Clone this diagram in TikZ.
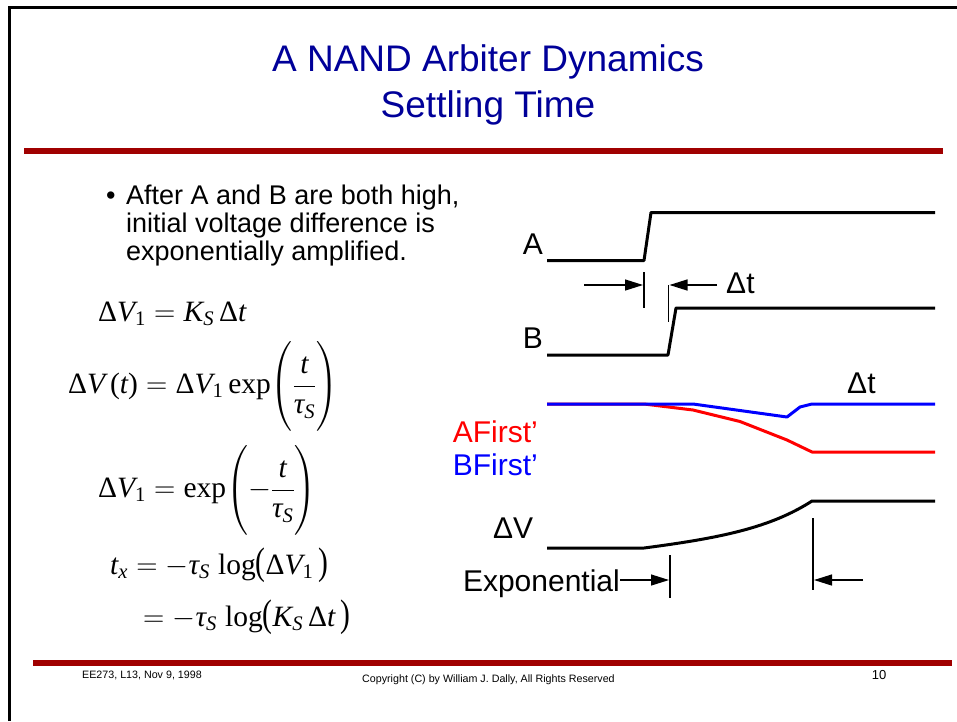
\documentclass[tikz,border=0pt]{standalone}
\usepackage{fix-cm}
\usepackage{amsmath}
\usepackage{graphicx}
\usepackage{fontspec}
\setmainfont{Liberation Sans}
\newfontfamily\mathser{Liberation Serif}
\newcommand\mi[1]{\text{\mathser\itshape #1}}
\newcommand\mr[1]{\text{\mathser #1}}
\newcommand\tallstrut{\vcenter{\hbox{\rule{0pt}{86pt}}}}
\newcommand\lpar{\mathopen{\text{\mathser\scalebox{1}[1.3]{(}}}}
\newcommand\rpar{\mathclose{\text{\mathser\scalebox{1}[1.3]{)}}}}
\usetikzlibrary{arrows.meta}
\definecolor{titleblue}{RGB}{0,0,153}
\definecolor{barred}{RGB}{160,0,0}
\begin{document}
\begin{tikzpicture}[x=1pt,y=-1pt,
  wave/.style={line width=3pt, line join=round},
  tickline/.style={line width=1.3pt},
  dimarrow/.style={line width=1.3pt,-{Triangle[length=18pt,width=11pt]}},
  lbl/.style={font=\fontsize{30}{34}\selectfont, inner sep=0pt},
  eqn/.style={font=\fontsize{29.5}{34}\selectfont, inner sep=0pt},
  foot/.style={font=\fontsize{10.7}{12}\selectfont, inner sep=0pt},
]
\useasboundingbox (0,0) rectangle (957,721);
\fill[white] (0,0) rectangle (957,721);
% frame
\draw[line width=3pt] (9.5,721) -- (9.5,7.5) -- (957,7.5);
% bars
\fill[barred] (24,148) rectangle (943,154);
\fill[barred] (33,660) rectangle (952,666);
% title
\node[font=\fontsize{37}{45}\selectfont, text=titleblue, inner sep=0pt] (title1) at (488,62) {A NAND Arbiter Dynamics};
\node[font=\fontsize{37}{45}\selectfont, text=titleblue, inner sep=0pt] (title2) at (488,108) {Settling Time};
% bullet
\node[font=\fontsize{27}{28}\selectfont, inner sep=0pt, anchor=west] (bullet) at (106,198) {\textbullet};
\node[anchor=north west, align=left, inner sep=0pt, font=\fontsize{27}{28}\selectfont] (btext) at (126,185) {After A and B are both high,\\initial voltage difference is\\exponentially amplified.};
% equations
\node[eqn, anchor=base west] (eq1) at (98,321) {$\mr{Δ}\mi{V}_{\mr{1}} = \mi{K}_{\mi{S}}\,\mr{Δ}\mi{t}$};
\node[eqn, anchor=west] (eq2) at (68,386) {$\displaystyle \mr{Δ}\mi{V}\,\mr{(}\mi{t}\mr{)} = \mr{Δ}\mi{V}_{\mr{1}}\,\mr{exp}\!\left(\frac{\mi{t}}{\mi{τ}_{\mi{S}}}\tallstrut\right)$};
\node[eqn, anchor=west] (eq3) at (98,490) {$\displaystyle \mr{Δ}\mi{V}_{\mr{1}} = \mr{exp}\!\left(-\frac{\mi{t}}{\mi{τ}_{\mi{S}}}\tallstrut\right)$};
\node[eqn, anchor=base west] (eq4) at (110,574) {$\mi{t}_{\mi{x}} = -\mi{τ}_{\mi{S}}\;\mr{log}\lpar\mr{Δ}\mi{V}_{\mr{1}}\,\rpar$};
\node[eqn, anchor=base west] (eq5) at (143,626) {$= -\mi{τ}_{\mi{S}}\;\mr{log}\lpar\mi{K}_{\mi{S}}\,\mr{Δ}\mi{t}\,\rpar$};
% A and B waveforms
\node[lbl, anchor=base east] (la) at (543,254) {A};
\node[lbl, anchor=base east] (lb) at (543,348) {B};
\draw[wave] (547,260.5) -- (644,260.5) -- (651,212.5) -- (935,212.5);
\draw[wave] (547,355) -- (668,355) -- (676,308) -- (935,308);
\coordinate (t1a) at (644,272); \coordinate (t1b) at (644,308);
\coordinate (t2a) at (668.5,285); \coordinate (t2b) at (668.5,322);
\draw[tickline] (t1a) -- (t1b);
\draw[tickline] (t2a) -- (t2b);
\coordinate (a1s) at (584,285);
\coordinate (a2s) at (717,285);
\draw[dimarrow] (a1s) -- (643,285);
\draw[dimarrow] (a2s) -- (669.5,285);
\node[lbl, anchor=base west] (dt1) at (726,293) {Δt};
% AFirst / BFirst
\node[lbl, anchor=base west] (dt2) at (847,393) {Δt};
\node[lbl, anchor=base east, text=red] (af) at (538,442) {AFirst’};
\node[lbl, anchor=base east, text=blue] (bf) at (538,475) {BFirst’};
\draw[wave, red] (547,404) -- (644,404) -- (693,410) -- (740,421.5) -- (787,440) -- (812,452) -- (935,452);
\draw[wave, blue] (547,404) -- (693,404) -- (787,417) -- (800,407) -- (812,404) -- (935,404);
% Delta V
\node[lbl, anchor=base west] (dv) at (493,538) {ΔV};
\draw[wave] (547,548) -- (644,548) .. controls (720,538) and (770,528) .. (812,501) -- (935,501);
\node[lbl, anchor=base east] (expo) at (620,591.5) {Exponential};
\coordinate (t3a) at (670,555); \coordinate (t3b) at (670,598);
\coordinate (t4a) at (813,518); \coordinate (t4b) at (813,590);
\coordinate (a3e) at (669,580);
\draw[tickline] (t3a) -- (t3b);
\draw[tickline] (t4a) -- (t4b);
\draw[dimarrow] (expo.east |- a3e) -- (a3e);
\coordinate (a4s) at (863,580);
\draw[dimarrow] (a4s) -- (814,580);
% footer
\node[foot, anchor=west] (f1) at (82,675) {EE273, L13, Nov 9, 1998};
\node[foot, anchor=west] (f2) at (362,680) {Copyright (C) by William J. Dally, All Rights Reserved};
\node[foot, font=\fontsize{13}{15}\selectfont] (f3) at (879,675) {10};
\end{tikzpicture}
\end{document}
